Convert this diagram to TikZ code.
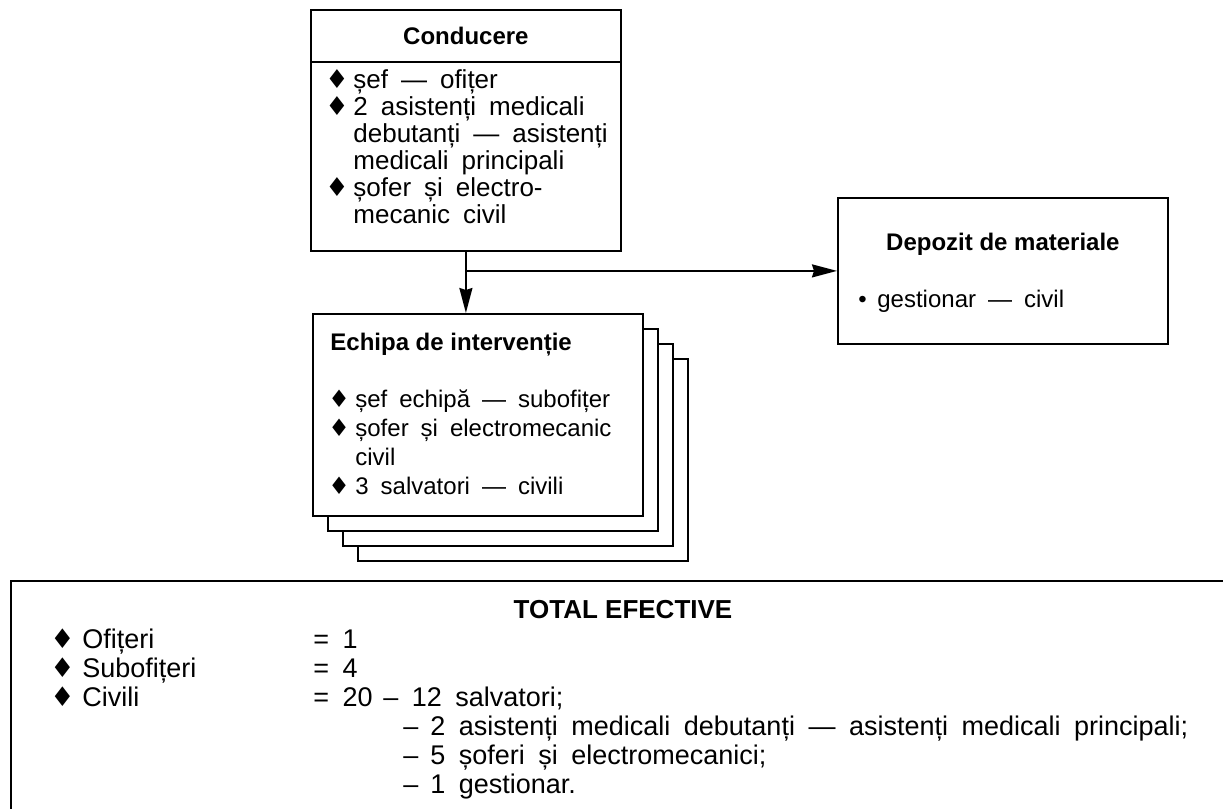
\documentclass[tikz,border=0pt]{standalone}
\usepackage{fontspec}
\setmainfont{Liberation Sans}
\newfontfamily\dejavu{DejaVu Sans}
\usetikzlibrary{arrows.meta,positioning}

% diamond bullet of a given width, wide word gaps
\newcommand{\dia}[1]{\makebox[#1][l]{\dejavu ♦}}
\newcommand{\gaps}{\spaceskip=0.5em plus 0.1em minus 0.05em\relax}

\begin{document}
\begin{tikzpicture}[
  x=0.5pt, y=-0.5pt,
  box/.style={draw, rectangle, line width=0.9pt, fill=white, inner sep=0pt, anchor=north west},
  head/.style={inner sep=0pt, font=\bfseries\fontsize{#1}{14}\selectfont},
  list/.style={inner sep=0pt, anchor=base west, align=left, text width=#1},
  link/.style={line width=0.9pt, -{Stealth[length=12.5pt, width=6.5pt, inset=1pt]}}
]
\useasboundingbox (0,0) rectangle (1223,809);
\clip (0,0) rectangle (1223,809);

% Conducere
\node[box, head=12, minimum width=155pt, minimum height=26pt] (condhead) at (310,9) {Conducere};
\node[box, minimum width=155pt, minimum height=94.5pt] (condbody) at (310,61) {};
\node[list=160pt, font=\fontsize{13}{13.5}\selectfont] (condtext) at (325,88)
  {\gaps\dia{14pt}șef — ofițer\\
   \dia{14pt}2 asistenți medicali\\
   \hspace*{14pt}debutanți — asistenți\\
   \hspace*{14pt}medicali principali\\
   \dia{14pt}șofer și electro-\\
   \hspace*{14pt}mecanic civil};

% Echipa de interventie (stacked copies)
\node[box, minimum width=165pt, minimum height=101pt] (echipa3) at (357,358) {};
\node[box, minimum width=165pt, minimum height=101pt] (echipa2) at (342,343) {};
\node[box, minimum width=165pt, minimum height=101pt] (echipa1) at (327,328) {};
\node[box, minimum width=165pt, minimum height=101pt] (echipa) at (312,313) {};
\node[head=12, anchor=base west] (echipahead) at (330,350) {Echipa de intervenție};
\node[list=165pt, font=\fontsize{12}{14.5}\selectfont] (echipatext) at (328,407)
  {\gaps\dia{13.5pt}șef echipă — subofițer\\
   \dia{13.5pt}șofer și electromecanic\\
   \hspace*{13.5pt}civil\\
   \dia{13.5pt}3 salvatori — civili};

% Depozit de materiale
\node[box, minimum width=165pt, minimum height=73pt] (depozit) at (837,197) {};
\node[head=12, anchor=base] (depozithead) at (depozit.center |- 0,250) {Depozit de materiale};
\node[list=150pt, font=\fontsize{12}{14}\selectfont] (depozittext) at (858,307)
  {\gaps\makebox[9.5pt][l]{•}gestionar — civil};

% connectors
\coordinate (split) at (condbody.south |- depozit.west);
\draw[link] (condbody.south) -- (condbody.south |- echipa.north);
\draw[link] (split) -- (depozit.west);

% Total efective
\node[box, minimum width=620pt, minimum height=130pt] (total) at (10,580) {};
\node[head=13, anchor=base] (totalhead) at (623,618) {TOTAL EFECTIVE};
\node[list=580pt, font=\fontsize{13.5}{14.5}\selectfont] (totaltext) at (50,648)
  {\gaps\makebox[131.5pt][l]{\dia{16pt}Ofițeri}= 1\\
   \makebox[131.5pt][l]{\dia{16pt}Subofițeri}= 4\\
   \makebox[131.5pt][l]{\dia{16pt}Civili}\makebox[35pt][l]{= 20}– 12 salvatori;\\
   \hspace*{176.5pt}\makebox[13.5pt][l]{–}2 asistenți medicali debutanți — asistenți medicali principali;\\
   \hspace*{176.5pt}\makebox[13.5pt][l]{–}5 șoferi și electromecanici;\\
   \hspace*{176.5pt}\makebox[13.5pt][l]{–}1 gestionar.};
\end{tikzpicture}
\end{document}
